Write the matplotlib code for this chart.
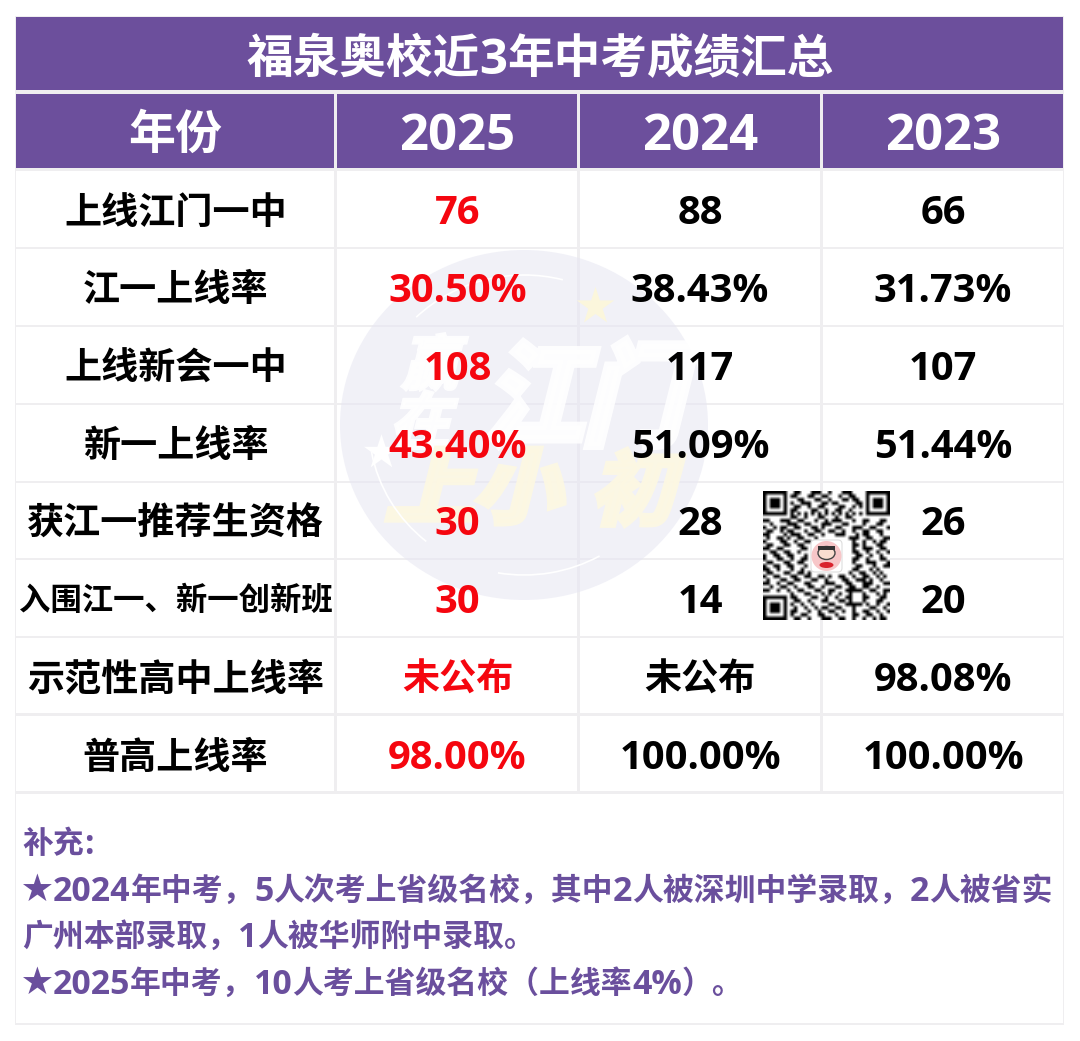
"""
福泉奥校近3年中考成绩汇总 表格图
"""
import re

import numpy as np
import matplotlib
matplotlib.use("Agg")
import matplotlib.pyplot as plt
from matplotlib.font_manager import FontProperties
from matplotlib.patches import Circle, Ellipse, FancyBboxPatch, PathPatch, Arc, Rectangle
from matplotlib.textpath import TextPath
from matplotlib.transforms import Affine2D

plt.rcParams["font.family"] = ["Open Sans", "Noto Sans CJK SC", "DejaVu Sans"]

PURPLE = "#6c4f9c"
GRID = "#efeef0"
RED = "#f5060f"

title = "福泉奥校近3年中考成绩汇总"
header = ["年份", "2025", "2024", "2023"]
row_labels = ["上线江门一中", "江一上线率", "上线新会一中", "新一上线率",
              "获江一推荐生资格", "入围江一、新一创新班", "示范性高中上线率", "普高上线率"]
col_2025 = ["76", "30.50%", "108", "43.40%", "30", "30", "未公布", "98.00%"]
col_2024 = ["88", "38.43%", "117", "51.09%", "28", "14", "未公布", "100.00%"]
col_2023 = ["66", "31.73%", "107", "51.44%", "26", "20", "98.08%", "100.00%"]
notes = ["补充:",
         "★2024年中考，5人次考上省级名校，其中2人被深圳中学录取，2人被省实",
         "广州本部录取，1人被华师附中录取。",
         "★2025年中考，10人考上省级名校（上线率4%）。"]

# 二维码
qr_rows = [
    "1111111001100011100100011100001111111",
    "1000001011000110011000100110001000001",
    "1011101000110001100100011011001011101",
    "1011101010011100011011000001101011101",
    "1011101001100100110000110010101011101",
    "1000001011000011001001100100001000001",
    "1111111010101010101010101010101111111",
    "0000000011001000110001001100000000000",
    "1100011100110001001011100010011000110",
    "0010000111001100011100011000010001100",
    "1001011001100011010001100011100110001",
    "0110010110001001100110010010011001100",
    "1100001011100110010001110001011000100",
    "0100110100110001000000000111001100011",
    "1000011001001100000000000010010010110",
    "0110001100110000000000000011010001100",
    "1100110000011000000000000010011100110",
    "0011001100100000000000000011001001001",
    "1001100110001000000000000001100100100",
    "1000110010011000000000000011001000110",
    "0110001100110000000000000010001110001",
    "1001100110001000000000000001100010011",
    "1100100010010000000000000011000101000",
    "0110001100110100000000000100110010100",
    "1001100011001100110100110010011001010",
    "0100011001100011001000011001110100100",
    "1100100110001100001110001100011100011",
    "0010011001000110010001100110011001000",
    "1100100100110001100110001111100110011",
    "0000000010001100010100100100010001010",
    "1111111011000011001001001100011000110",
    "1000001001100100011000110100010001100",
    "1011101010010010000110001111101001001",
    "1011101001001001011001100010000110010",
    "1011101011000100100110010010011001001",
    "1000001010011000110001000011001100100",
    "1111111001100100011100110010010010110",
]

fig = plt.figure(figsize=(10.8, 10.41), dpi=100, facecolor="white")
ax = fig.add_axes([0, 0, 1, 1])
ax.set_xlim(0, 1080)
ax.set_ylim(1041, 0)
ax.axis("off")

col_edges = [(16, 334), (337, 577), (580, 820), (823, 1063)]
row_edges = [(171, 247), (249, 325), (327, 403), (405, 481),
             (483, 558), (560, 636), (638, 713), (716, 791)]


def mixed_text(x, y, s, cjk_size, latin_size, color, ha="left"):
    # 中文和数字字号不同，分段画
    runs = re.findall(r"[^\x00-\x7f]+|[\x00-\x7f]+", s)
    renderer = fig.canvas.get_renderer()
    items = []
    width = 0
    for run in runs:
        size = cjk_size if ord(run[0]) > 127 else latin_size
        t = ax.text(0, y, run, fontsize=size, fontweight="bold",
                    color=color, ha="left", va="center_baseline", zorder=6)
        # 标点有侧边距，用 advance 计
        w = renderer.get_text_width_height_descent(run, t.get_fontproperties(), False)[0]
        items.append((t, w))
        width += w
    cur = x - width / 2 if ha == "center" else x
    for t, w in items:
        t.set_x(cur)
        cur += w


# 底色
ax.add_patch(Rectangle((15, 16), 1049, 1009, fc=GRID, ec="none", zorder=1))
ax.add_patch(Rectangle((16, 17), 1047, 73, fc=PURPLE, ec="none", zorder=2))
for x0, x1 in col_edges:
    ax.add_patch(Rectangle((x0, 94), x1 - x0, 74, fc=PURPLE, ec="none", zorder=2))
    for y0, y1 in row_edges:
        ax.add_patch(Rectangle((x0, y0), x1 - x0, y1 - y0, fc="white", ec="none", zorder=2))
ax.add_patch(Rectangle((16, 794), 1047, 229, fc="white", ec="none", zorder=2))

# 水印，盖在格子上面，网格线还能透出来
ax.add_patch(Ellipse((524, 425), 368, 350, fc="#e6e6f2", ec="none", alpha=0.55, zorder=3))
fp = FontProperties(family="Noto Sans CJK SC", weight="bold")


def wm_text(s, x, y, size, color, sx=1.0, lw=5):
    path = TextPath((0, 0), s, size=size, prop=fp)
    tr = Affine2D().scale(sx, -1).skew_deg(-14, 0).translate(x, y)
    ax.add_patch(PathPatch(tr.transform_path(path), fc=color, ec=color, lw=lw,
                           alpha=0.9, zorder=3.2))


wm_text("江门", 484, 436, 112, "#ffffff", 0.88, lw=6)
wm_text("赢", 402, 384, 58, "#ffffff", 0.95, lw=3)
wm_text("在", 390, 444, 62, "#ffffff", 0.95, lw=3)
wm_text("上小", 385, 516, 80, "#fdf8e2", 1.1, lw=5)
wm_text("初", 590, 518, 80, "#fdf8e2", 1.05, lw=4)
ax.scatter([595], [306], marker="*", s=800, color="#fbf6dc", zorder=3.2, linewidths=0)
ax.scatter([381], [452], marker="*", s=700, color="#ffffff", zorder=3.2, linewidths=0)
ax.add_patch(Arc((524, 425), 310, 300, theta1=225, theta2=285, color="white", lw=1.2, zorder=3.2))
ax.add_patch(Arc((524, 425), 310, 300, theta1=130, theta2=170, color="white", lw=1.2, zorder=3.2))
ax.add_patch(Arc((524, 425), 310, 300, theta1=60, theta2=100, color="white", lw=1.2, zorder=3.2))

# 表头
mixed_text(540, 55, title, 33.6, 35.4, "white", ha="center")
ax.text(175, 131, header[0], fontsize=33.8, fontweight="bold", color="white",
        ha="center", va="center_baseline", zorder=6)
for cx, s in zip([457.5, 700.5, 943.5], header[1:]):
    ax.text(cx, 131, s, fontsize=36.6, fontweight="bold", color="white",
            ha="center", va="center_baseline", zorder=6)

# 数据行
row_y = [209, 287, 365, 443, 520, 598, 676, 754]
for i, y in enumerate(row_y):
    size = 22.6 if i == 5 else 26.7
    ax.text(175.5, y, row_labels[i], fontsize=size, fontweight="bold", color="black",
            ha="center", va="center_baseline", zorder=6)
    for cx, col, color in [(457.5, col_2025, RED), (700, col_2024, "black"), (943, col_2023, "black")]:
        s = col[i]
        fs = 26.7 if s == "未公布" else 28.7
        ax.text(cx, y, s, fontsize=fs, fontweight="bold", color=color,
                ha="center", va="center_baseline", zorder=6)

# 补充说明
for s, y in zip(notes, [841, 888, 934, 981]):
    mixed_text(22, y, s, 22.2, 24.4, "#6a4f9d")

# 二维码
qr = np.array([[int(c) for c in r] for r in qr_rows])
ax.imshow(1 - qr, cmap="gray", vmin=0, vmax=1, extent=(763, 890, 620, 491),
          interpolation="bilinear", aspect="auto", zorder=4)
ax.set_xlim(0, 1080)
ax.set_ylim(1041, 0)
ax.add_patch(FancyBboxPatch((812, 541), 29, 30, boxstyle="round,pad=1,rounding_size=4",
                            fc="white", ec="#dddddd", lw=0.8, zorder=5))
ax.add_patch(Circle((826.5, 556), 15, fc="#f7c6c8", ec="none", zorder=5.1))
ax.add_patch(Ellipse((826.5, 553), 17, 13, fc="#f9ddd0", ec="#444444", lw=1, zorder=5.2))
ax.add_patch(Rectangle((818, 546), 17, 4, fc="#333333", ec="none", zorder=5.3))
ax.add_patch(Ellipse((826.5, 565), 14, 6, fc="#d9232e", ec="none", zorder=5.3))

fig.savefig("out.png", dpi=100)
plt.close(fig)
